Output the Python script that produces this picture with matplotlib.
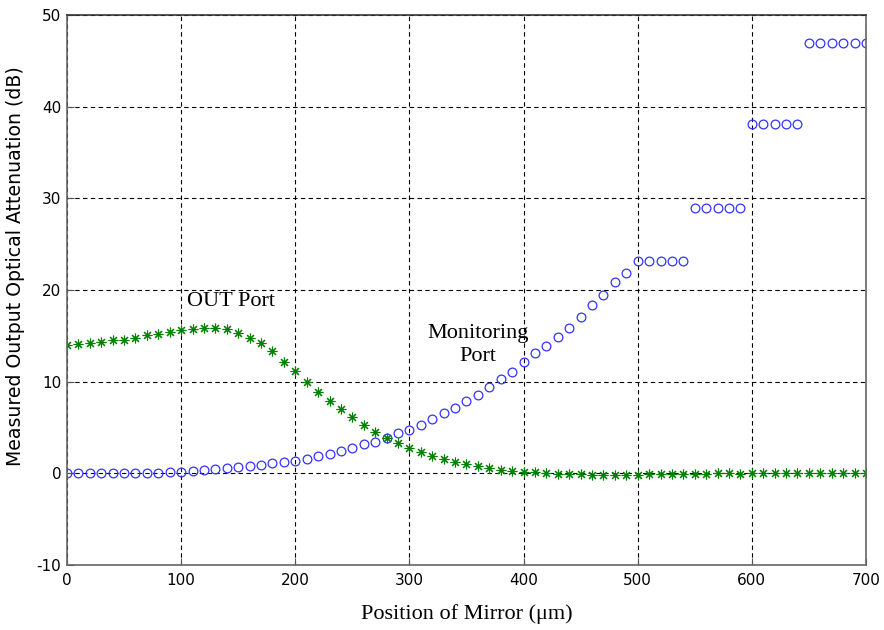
import matplotlib
matplotlib.use("Agg")
import matplotlib.pyplot as plt

plt.rcParams["axes.unicode_minus"] = False

# Mirror position (um), one reading every 10 um
position = list(range(0, 701, 10))

# Monitoring port attenuation (dB)
monitoring = [0.0, 0.0, 0.0, 0.0, 0.0, 0.0, 0.0, 0.0, 0.05, 0.1,
              0.2, 0.3, 0.4, 0.45, 0.55, 0.65, 0.8, 0.95, 1.1, 1.25,
              1.4, 1.6, 1.9, 2.15, 2.45, 2.75, 3.15, 3.45, 3.9, 4.35,
              4.75, 5.3, 5.9, 6.6, 7.1, 7.9, 8.5, 9.45, 10.25, 11.1,
              12.1, 13.1, 13.9, 14.9, 15.9, 17.1, 18.4, 19.5, 20.9, 21.9,
              23.2, 23.2, 23.2, 23.2, 23.2,
              28.9, 28.9, 28.9, 28.9, 28.9,
              38.1, 38.1, 38.1, 38.1, 38.1,
              47.0, 47.0, 47.0, 47.0, 47.0, 47.0]

# OUT port attenuation (dB)
out_port = [14.0, 14.1, 14.2, 14.3, 14.5, 14.6, 14.8, 15.1, 15.2, 15.45,
            15.6, 15.8, 15.9, 15.9, 15.7, 15.3, 14.8, 14.2, 13.3, 12.2,
            11.2, 10.0, 8.9, 7.9, 7.0, 6.2, 5.3, 4.5, 3.9, 3.3,
            2.75, 2.3, 1.9, 1.55, 1.25, 1.0, 0.75, 0.58, 0.36, 0.25,
            0.18, 0.1, 0.02, -0.02, -0.08, -0.12, -0.15, -0.15, -0.15, -0.15,
            -0.15, -0.12, -0.12, -0.1, -0.1, -0.05, -0.05, 0.0, 0.0, -0.05,
            0.0, 0.05, 0.05, 0.05, 0.05, 0.05, 0.05, 0.05, 0.05, 0.05, 0.05]

xticks = [0, 100, 200, 300, 400, 500, 600, 700]
yticks = [-10, 0, 10, 20, 30, 40, 50]

serif = ["Liberation Serif", "DejaVu Serif"]

fig = plt.figure(figsize=(8.84, 6.30), dpi=100)
ax = fig.add_axes([0.0758, 0.1032, 0.9038, 0.8728])

ax.plot(position, monitoring, linestyle="none", marker="o", markersize=6.3,
        markerfacecolor="none", markeredgecolor="#3333ff", markeredgewidth=0.9)
ax.plot(position, out_port, linestyle="none", marker=(8, 2, 0), markersize=7,
        color="#008000", markeredgewidth=0.8)

ax.set_xlim(0, 700)
ax.set_ylim(-10, 50)
ax.set_xticks(xticks)
ax.set_yticks(yticks)
ax.tick_params(direction="in", length=5, width=0.8, color="#555555",
               labelsize=11, pad=4)
ax.tick_params(axis="x", pad=6)
for lbl in ax.get_xticklabels() + ax.get_yticklabels():
    lbl.set_family("DejaVu Sans")
ax.grid(True, color="black", linestyle=(0, (4, 3)), linewidth=0.8)
for s in ax.spines.values():
    s.set_color("#666666")
    s.set_linewidth(1.2)
ax.spines["top"].set_color("#333333")

ax.set_xlabel("Position of Mirror (\u03bcm)", family=serif, fontsize=16)
ax.xaxis.set_label_coords(0.5, -0.071)
ax.set_ylabel("Measured Output Optical Attenuation (dB)", family="DejaVu Sans",
              fontsize=13.6)
ax.yaxis.set_label_coords(-0.052, 0.544)

ax.text(144, 18.7, "OUT Port", family=serif, fontsize=16, ha="center", va="center")
ax.text(360, 14.0, "Monitoring\nPort", family=serif, fontsize=16, ha="center",
        va="center", linespacing=1.3)

fig.savefig("out.png", dpi=100)
